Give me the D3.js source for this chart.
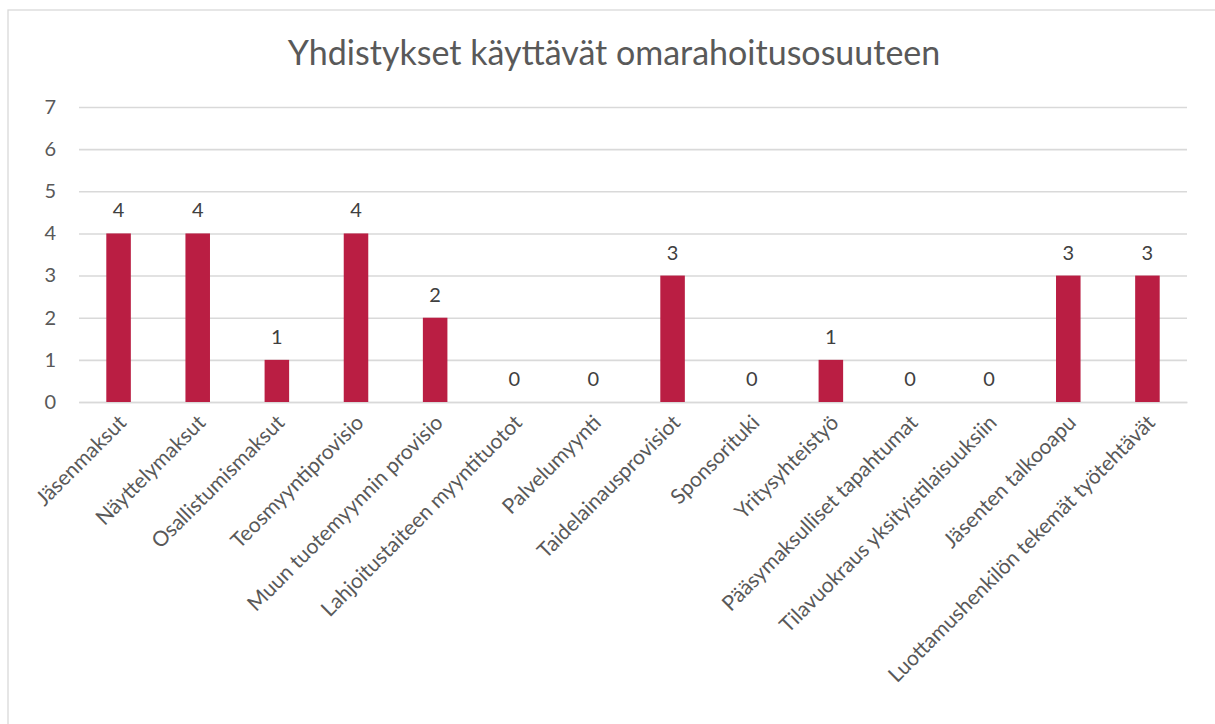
<!DOCTYPE html>
<html><head><meta charset="utf-8">
<script src="https://cdn.jsdelivr.net/npm/d3@7"></script>
<style>body{margin:0;background:#fff}svg{display:block}text{font-family:Lato,"Open Sans",sans-serif}</style>
</head><body>
<svg id="c" width="1215" height="724"></svg>
<script>
const title = "Yhdistykset käyttävät omarahoitusosuuteen";
const categories = ["Jäsenmaksut","Näyttelymaksut","Osallistumismaksut","Teosmyyntiprovisio","Muun tuotemyynnin provisio","Lahjoitustaiteen myyntituotot","Palvelumyynti","Taidelainausprovisiot","Sponsorituki","Yritysyhteistyö","Pääsymaksulliset tapahtumat","Tilavuokraus yksityistilaisuuksiin","Jäsenten talkooapu","Luottamushenkilön tekemät työtehtävät"];
const values = [4,4,1,4,2,0,0,3,0,1,0,0,3,3];
const yTicks = [0,1,2,3,4,5,6,7];

const svg = d3.select("#c");
const W = 1215, H = 724;
const m = {left:79, right:1187, top:107, bottom:402};
const textCol = "#595959", gridCol = "#d9d9d9", barCol = "#BA1E43";

svg.append("rect").attr("x",8).attr("y",10).attr("width",W+10).attr("height",H+10)
  .attr("fill","#fff").attr("stroke",gridCol).attr("stroke-width",1.3);

const x = d3.scaleBand().domain(categories).range([m.left,m.right]).paddingInner(0.69).paddingOuter(0.345);
const y = d3.scaleLinear().domain([0,7]).range([m.bottom,m.top]);

svg.append("text").attr("x",614).attr("y",65).attr("text-anchor","middle")
  .attr("fill",textCol).attr("font-size",34).text(title);

const gy = svg.append("g").attr("transform",`translate(${m.left},0)`)
  .call(d3.axisLeft(y).tickValues(yTicks).tickSize(-(m.right-m.left)).tickPadding(23).tickFormat(d3.format("d")));
gy.select(".domain").remove();
gy.selectAll(".tick line").attr("stroke",gridCol).attr("stroke-width",1.6);
gy.selectAll(".tick text").attr("fill",textCol).attr("font-size",20).attr("font-family","Lato");

svg.append("g").selectAll("text").data(values).join("text")
  .attr("x",(d,i)=>x(categories[i])+x.bandwidth()/2).attr("y",d=>y(d)-16)
  .attr("text-anchor","middle").attr("fill","#404040").attr("font-size",20).text(d=>d);

const gx = svg.append("g").attr("transform",`translate(0,${m.bottom})`)
  .call(d3.axisBottom(x).tickSize(0).tickPadding(0));
gx.select(".domain").attr("stroke",gridCol).attr("stroke-width",1.6);
gx.selectAll(".tick text").attr("fill",textCol).attr("font-size",21)
  .attr("text-anchor","end").attr("dy",0)
  .attr("transform","translate(9,22) rotate(-45)");

svg.append("g").selectAll("rect").data(values).join("rect")
  .attr("x",(d,i)=>x(categories[i])).attr("width",x.bandwidth())
  .attr("y",d=>y(d)).attr("height",d=>y(0)-y(d)).attr("fill",barCol);
</script>
</body></html>
